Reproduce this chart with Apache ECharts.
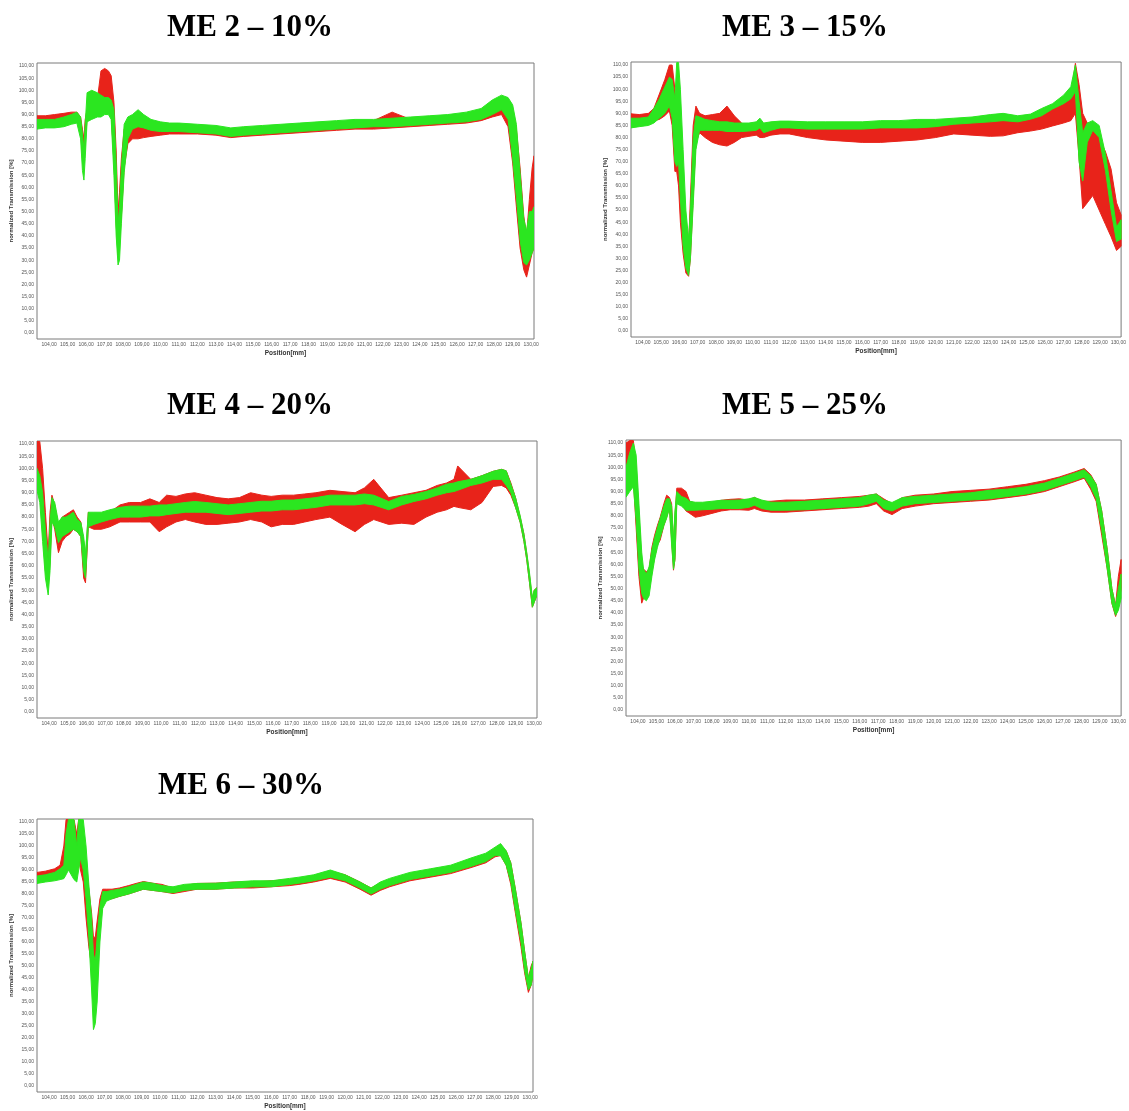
<!DOCTYPE html>
<html>
<head>
<meta charset="utf-8">
<title>ME transmission</title>
<script src="https://cdn.jsdelivr.net/npm/echarts@6.0.0/dist/echarts.min.js"></script>
<style>
  html, body { margin: 0; padding: 0; background: #fff; }
  #chart { width: 1129px; height: 1111px; }
</style>
</head>
<body>
<div id="chart"></div>
<script>
// axis ticks
var xTicks = [104,105,106,107,108,109,110,111,112,113,114,115,116,117,118,119,120,121,122,123,124,125,126,127,128,129,130];
var yTicks = [0,5,10,15,20,25,30,35,40,45,50,55,60,65,70,75,80,85,90,95,100,105,110];

// ME 2 - 10%
var me2Pos = [103.35,103.8,104.3,104.8,105.2,105.5,105.7,105.8,105.88,105.95,106.05,106.3,106.6,106.8,107.0,107.2,107.35,107.5,107.62,107.72,107.8,107.9,108.05,108.25,108.5,108.8,109.1,109.5,110.0,110.5,111.0,112.0,113.0,113.8,114.5,115.5,116.5,117.5,118.5,119.5,120.5,121.5,122.5,123.5,124.5,125.5,126.5,127.3,127.9,128.4,128.75,129.0,129.2,129.4,129.6,129.75,129.9,130.05,130.15];
var me2RedLo = [86,86.5,86.5,87,87.5,87.5,84,72,70,78,88,89,90,96,97,95,90,70,45,32,38,48,68,78,80,80,80.5,81,81.5,82,82,82,81.5,80.5,81,81.5,82,82.5,83,83.5,84,84,84.5,85,85.5,86,86.5,87.5,89,90,85,70,52,35,26,23,28,33,35];
var me2RedHi = [89.5,89.5,90,90.5,91,91,89,84,80,88,92,93,96,108,109,108,106,95,75,50,58,72,84,86,87,88,87,85.5,85,85,84.5,84.5,84,83.5,84,84.5,85,85.5,86,86.5,87,87.5,91,88,88.5,89,90,91.5,94,96,95,92,84,68,48,40,55,68,73];
var me2GreenLo = [84,84.5,84.5,85,86,86.5,80,67,63,72,87,88,89,89,90,90,88,65,40,28,30,45,66,80,84,85,84.5,83.5,83,83,83,82.5,82,81,81.5,82,82.5,83,83.5,84,84.5,85,85,85.5,86,86.5,87,88,90,92,88,72,56,38,29,28,30,33,35];
var me2GreenHi = [88,88,88,89,90,91,89,82,76,86,99,100,99,98,97,97,96,92,70,45,52,68,86,89,90,92,90,88,87,86.5,86.5,86,85.5,84.5,85,85.5,86,86.5,87,87.5,88,88,88.5,89,89.5,90,91,92.5,96,98,97,94,86,66,47,42,50,50,52];

// ME 3 - 15%
var me3Pos = [103.35,103.8,104.3,104.6,104.9,105.2,105.45,105.6,105.75,105.85,105.95,106.05,106.2,106.35,106.5,106.6,106.75,106.9,107.1,107.4,107.8,108.2,108.6,109.0,109.4,109.8,110.2,110.4,110.6,111.0,111.5,112.0,113.0,114.0,115.0,116.0,117.0,118.0,119.0,120.0,121.0,122.0,123.0,123.7,124.5,125.2,125.8,126.4,127.0,127.4,127.65,127.85,128.05,128.3,128.6,128.95,129.3,129.6,129.9,130.15];
var me3RedLo = [86,86.5,87,87,87.5,89,91,85,66,66,60,45,32,24,22.6,30,55,78,82,80,78,77,76.5,78,80,80.5,81,80,80,81,81.5,81.5,80,79,78.5,78,78,78.5,79,80,81.5,81,80.5,80.7,82,82.7,83.5,84.8,86,87,90,72,50.6,53,56,50,44,39,33.3,35];
var me3RedHi = [89.8,89.5,90,92,98,104,110,110,100,90,85,75,60,45,35,55,85,93,90,89,89.5,90,93,89,86,84.5,84,84.5,84.5,86,86,86,85.5,85.5,85.5,85.5,85.5,86,86,86,86,86.5,87,87,87.5,88,90,92,94,97,110.7,102,90,86,84,80,74,67,53,48];
var me3GreenLo = [84,84.5,85,86,88,90,93,88,70,68,70,55,35,26,23,30,52,75,83,83,83,83,82.5,82.5,82.5,82.7,83,84,82,83,84,84,83.5,83.5,83.5,83.5,84,84,84,84.5,85.5,86,86.5,87,86.5,87.6,89,91.8,94,96,99,70,62,78,83,80,66,50,37,38];
var me3GreenHi = [88,88,88.5,92,96,101,105,104,96,111,111,100,75,50,38,50,80,89,88.5,87.5,87,86.5,86.5,86,86,86,86.5,88,86,86.5,86.8,86.8,86.5,86.5,86.5,86.5,87,87,87.5,87.5,88,88.5,89.5,90,89,89.7,92,94,97.5,101,110,95,82,86,87,85,73,58,43,46];

// ME 4 - 20%
var me4Pos = [103.35,103.5,103.65,103.8,103.95,104.05,104.15,104.3,104.5,104.7,104.9,105.1,105.3,105.5,105.7,105.85,105.95,106.1,106.4,106.8,107.25,107.8,108.3,108.9,109.4,109.9,110.3,110.8,111.3,111.8,112.4,113.0,113.6,114.2,114.8,115.4,115.9,116.5,117.1,117.7,118.3,119.05,119.7,120.4,120.9,121.4,122.2,122.9,123.55,124.2,124.8,125.3,125.7,125.9,126.6,127.2,127.8,128.25,128.5,128.75,129.0,129.25,129.45,129.6,129.75,129.9,130.0,130.15];
var me4RedLo = [100,92,75,58,52,62,80,75,65.4,70,72,73,75,74,72,55,53,76,75,75,76,78,78,78,78,74,76,78,79,78,77,77,77.5,78,79,78,76,77,77,78,79,80,77,74,77,79,77,77.5,77,80,82,83,84.4,84,83,86,92.6,93,92,89,84,77.8,70,62.5,53,43,45,48];
var me4RedHi = [111,111,100,82,65,82,89,85,76,80,81,82,83,80,78,70,62,82,80,81,82,85,86,86,87.5,86,89,88.5,89.5,90,89,88,87.5,88,90,89,88.5,89,89,89.5,90,91,90.5,90,92,95.5,88,89,90,91,93,94,95.5,101,95.5,97,98.8,99.6,99,94,88,80,73,65,56,46,50,51];
var me4GreenLo = [91,86,70,55,48,58,78,76,69.5,72,73,74,75,74,72,58,55,76,77,78,79,80,80,80,80.5,80.5,81,81.5,82,82,82,81.5,81,81.5,82,82.5,82.5,83,83,83.5,84,85,85,85,85.5,85,83,85,86.4,87.5,89,90,90.5,91,93,94,95.5,95.5,93,90,84,77.8,70,62.5,53,43,45,48];
var me4GreenHi = [100,97,90,75,62,78,88,86,78,80,80,81,82,79,77.8,72,65,82,82,82,83,84,84.5,84.5,84.5,85,85,85.5,86,86.4,86,85.5,85,85.5,86,86.5,86.5,87,87,87.5,88,89,89,89,89.5,89,86.4,88.5,89.3,90.5,92,93.5,94,94.5,95.5,97,98.8,99.6,99,93.5,88,80.5,73,65.5,57,47,50,51];

// ME 5 - 25%
var me5Pos = [103.35,103.55,103.75,103.9,104.05,104.2,104.3,104.45,104.6,104.75,104.9,105.05,105.2,105.4,105.55,105.7,105.82,105.92,106.0,106.1,106.35,106.6,106.8,107.1,107.5,108.0,108.5,109.0,109.5,110.0,110.3,110.7,111.2,112.0,113.0,114.0,115.0,116.0,116.5,116.9,117.3,117.75,118.3,119.0,120.0,121.0,122.0,123.0,124.0,125.0,126.0,126.8,127.6,128.15,128.5,128.8,129.1,129.4,129.65,129.85,130.0,130.15];
var me5RedLo = [97,100,95,75,55,44,46,47,50,57,63,68,70,76,79.4,83.5,70,57.6,62,86.4,85,82,81,79.4,80,81,82,82.5,82.5,82.3,83,82,81.5,81.5,82,82.5,83,83.5,84,85,82,80.5,83,84,85,85.5,86,86.5,87.5,88.5,90,92,94,95.5,91,86,72,58,44,38.5,42,50];
var me5RedHi = [110,111,111,100,80,60,58,57,58,67,72,76,79.4,85,88.5,87.6,85,68,80,91.4,91.4,90,86,85.2,85,85.5,86.4,86.8,87,86.5,87.6,86,86,86.5,86.5,87,87.5,88,88.5,89,87,85,87.5,88.5,89,90,90.5,91,92,93,94.5,96,98,99.5,97,93,82,66,50,43,55,62];
var me5GreenLo = [87.7,90,92,78,58,48,46,45,47,55,62,67,71,76,79,83,68,58,62,85,84,82.3,82.3,82.3,82.5,82.7,83,83,83,83.5,84.4,83,82.3,82.3,82.5,83,83.5,84,85,86,83,82,84,85,85.5,86,86.5,87,88,89,90.5,92.5,94.5,96,92,87,74,58,44,39,41,46];
var me5GreenHi = [100,106,110,105,85,65,58,56,59,66,71,75,79,84,87,87,84,70,82,90,88,87.2,86,85.6,85.6,86,86.4,86.4,86.5,87,87.6,86.5,85.6,85.6,86,86.5,87,87.5,88.5,89,86.5,85.5,87.5,88,88.5,89,89.5,90.5,91,92,93.5,95.5,97.5,99,96.5,93,82,66,50,43,50,56];

// ME 6 - 30%
var me6Pos = [103.35,103.8,104.3,104.6,104.8,104.92,105.05,105.2,105.35,105.5,105.6,105.7,105.85,106.0,106.15,106.3,106.4,106.5,106.6,106.75,106.9,107.1,107.4,107.8,108.3,108.7,109.1,109.6,110.1,110.7,111.3,112.0,113.0,114.0,115.0,116.0,117.0,117.5,118.3,119.2,120.0,120.8,121.4,121.9,122.4,123.5,124.6,125.7,126.8,127.6,128.1,128.4,128.7,128.95,129.2,129.5,129.7,129.9,130.05,130.15];
var me6RedLo = [86,86.5,87.5,88.5,89,95,100,100,98,97.5,95,90,85,70,58,50,44,42,45,68.7,76,78,78,79,80,81,82,81.5,81,80.2,81,82,82,82.5,82.5,83,83.5,84,85,86.5,85,82,79.5,81.5,83,85.5,87,88.5,91,93,95.5,96,92,84,72,58,47,39,42,46];
var me6RedHi = [89,89.5,90.5,92,100,111,111,111,111,105,111,111,105,90,82,72,62,62,68.7,78,82,82,82,82.5,83.5,84.4,85.2,84.5,84,82.5,83.5,84.4,84.5,85,85,85.5,86,86.5,87.5,89.5,88,85,82.5,84.5,86,88.5,90,91.5,94,96.5,99,100,98,93,82,68,56,45,50,52];
var me6GreenLo = [84.4,85,85.5,86,86.4,88,90,88,86,85,90,95,90,78,62,40,23.5,26,35,60,74,77,78,79,80,81,82,81.5,81,80.5,81.5,82,82,82.5,83,83,84,84.5,85.5,87,85.5,82.5,80,82,83.5,86,87.5,89,91.5,93.5,96,96,92,85,73,60,48,40,42,46];
var me6GreenHi = [87.5,88,89,90.5,92,105,111,111,111,100,111,111,111,100,84,70,55,52,62,75,81,81,81.5,82,83,84,85,84.5,83.5,83,84,84.4,84.5,85,85.5,85.5,86.5,87,88,90,88,85,82.5,85,86.5,89,90.5,92,95,97,99.5,101,98,93,82,68,56,45,49,52];

var RED = '#e8231a';
var GREEN = '#2be620';
var LABEL_FONT = '"Liberation Sans", Arial, sans-serif';

// panel layout
var panels = [
  { title: 'ME 2 \u2013 10%', tx: 250, ty: 28, left: 37, top: 63, width: 497, height: 276,
    pos: me2Pos, redLo: me2RedLo, redHi: me2RedHi, greenLo: me2GreenLo, greenHi: me2GreenHi },
  { title: 'ME 3 \u2013 15%', tx: 805, ty: 28, left: 631, top: 62, width: 496, height: 275,
    pos: me3Pos, redLo: me3RedLo, redHi: me3RedHi, greenLo: me3GreenLo, greenHi: me3GreenHi },
  { title: 'ME 4 \u2013 20%', tx: 250, ty: 406, left: 37, top: 441, width: 500, height: 277,
    pos: me4Pos, redLo: me4RedLo, redHi: me4RedHi, greenLo: me4GreenLo, greenHi: me4GreenHi },
  { title: 'ME 5 \u2013 25%', tx: 805, ty: 406, left: 626, top: 440, width: 501, height: 276,
    pos: me5Pos, redLo: me5RedLo, redHi: me5RedHi, greenLo: me5GreenLo, greenHi: me5GreenHi },
  { title: 'ME 6 \u2013 30%', tx: 241, ty: 786, left: 37, top: 819, width: 496, height: 274,
    pos: me6Pos, redLo: me6RedLo, redHi: me6RedHi, greenLo: me6GreenLo, greenHi: me6GreenHi }
];

var fmt = function (v) { return Number(v).toFixed(2).replace('.', ','); };

// band of all runs of one colour, drawn as a filled polygon
var band = function (gi, pos, lo, hi, color, z) {
  return {
    type: 'custom',
    xAxisIndex: gi,
    yAxisIndex: gi,
    z: z,
    clip: true,
    silent: true,
    animation: false,
    data: [[pos[0], lo[0]]],
    renderItem: function (params, api) {
      var pts = [];
      for (var k = 0; k < pos.length; k++) pts.push(api.coord([pos[k], hi[k]]));
      for (var k = pos.length - 1; k >= 0; k--) pts.push(api.coord([pos[k], lo[k]]));
      return {
        type: 'polygon',
        shape: { points: pts },
        style: { fill: color, stroke: color, lineWidth: 1, lineJoin: 'round' }
      };
    }
  };
};

var grid = [], xAxis = [], yAxis = [], series = [], graphic = [];

panels.forEach(function (p, i) {
  grid.push({
    left: p.left, top: p.top, width: p.width, height: p.height,
    show: true, borderColor: '#7a7a7a', borderWidth: 1, backgroundColor: '#fff'
  });
  xAxis.push({
    type: 'value', gridIndex: i, min: 103.35, max: 130.15,
    axisLine: { show: false }, axisTick: { show: false }, splitLine: { show: false },
    axisLabel: { customValues: xTicks, formatter: fmt, fontSize: 5, color: '#555', margin: 3, fontFamily: LABEL_FONT },
    name: 'Position[mm]', nameLocation: 'middle', nameGap: 11,
    nameTextStyle: { fontSize: 6.5, fontWeight: 'bold', color: '#333', fontFamily: LABEL_FONT }
  });
  yAxis.push({
    type: 'value', gridIndex: i, min: -2.5, max: 111.25,
    axisLine: { show: false }, axisTick: { show: false }, splitLine: { show: false },
    axisLabel: { customValues: yTicks, formatter: fmt, fontSize: 5, color: '#555', margin: 3, fontFamily: LABEL_FONT },
    name: 'normalized Transmission [%]', nameLocation: 'middle', nameGap: 19, nameRotate: 90,
    nameTextStyle: { fontSize: 6, fontWeight: 'bold', color: '#333', fontFamily: LABEL_FONT }
  });
  series.push(band(i, p.pos, p.redLo, p.redHi, RED, 2));
  series.push(band(i, p.pos, p.greenLo, p.greenHi, GREEN, 3));
  graphic.push({
    type: 'text', x: p.tx, y: p.ty, silent: true,
    style: {
      text: p.title, fill: '#000', align: 'center', verticalAlign: 'middle',
      font: 'bold 31px "Liberation Serif", "Times New Roman", serif'
    }
  });
});

var chart = echarts.init(document.getElementById('chart'));
chart.setOption({
  backgroundColor: '#fff',
  animation: false,
  grid: grid,
  xAxis: xAxis,
  yAxis: yAxis,
  series: series,
  graphic: graphic
});
</script>
</body>
</html>
